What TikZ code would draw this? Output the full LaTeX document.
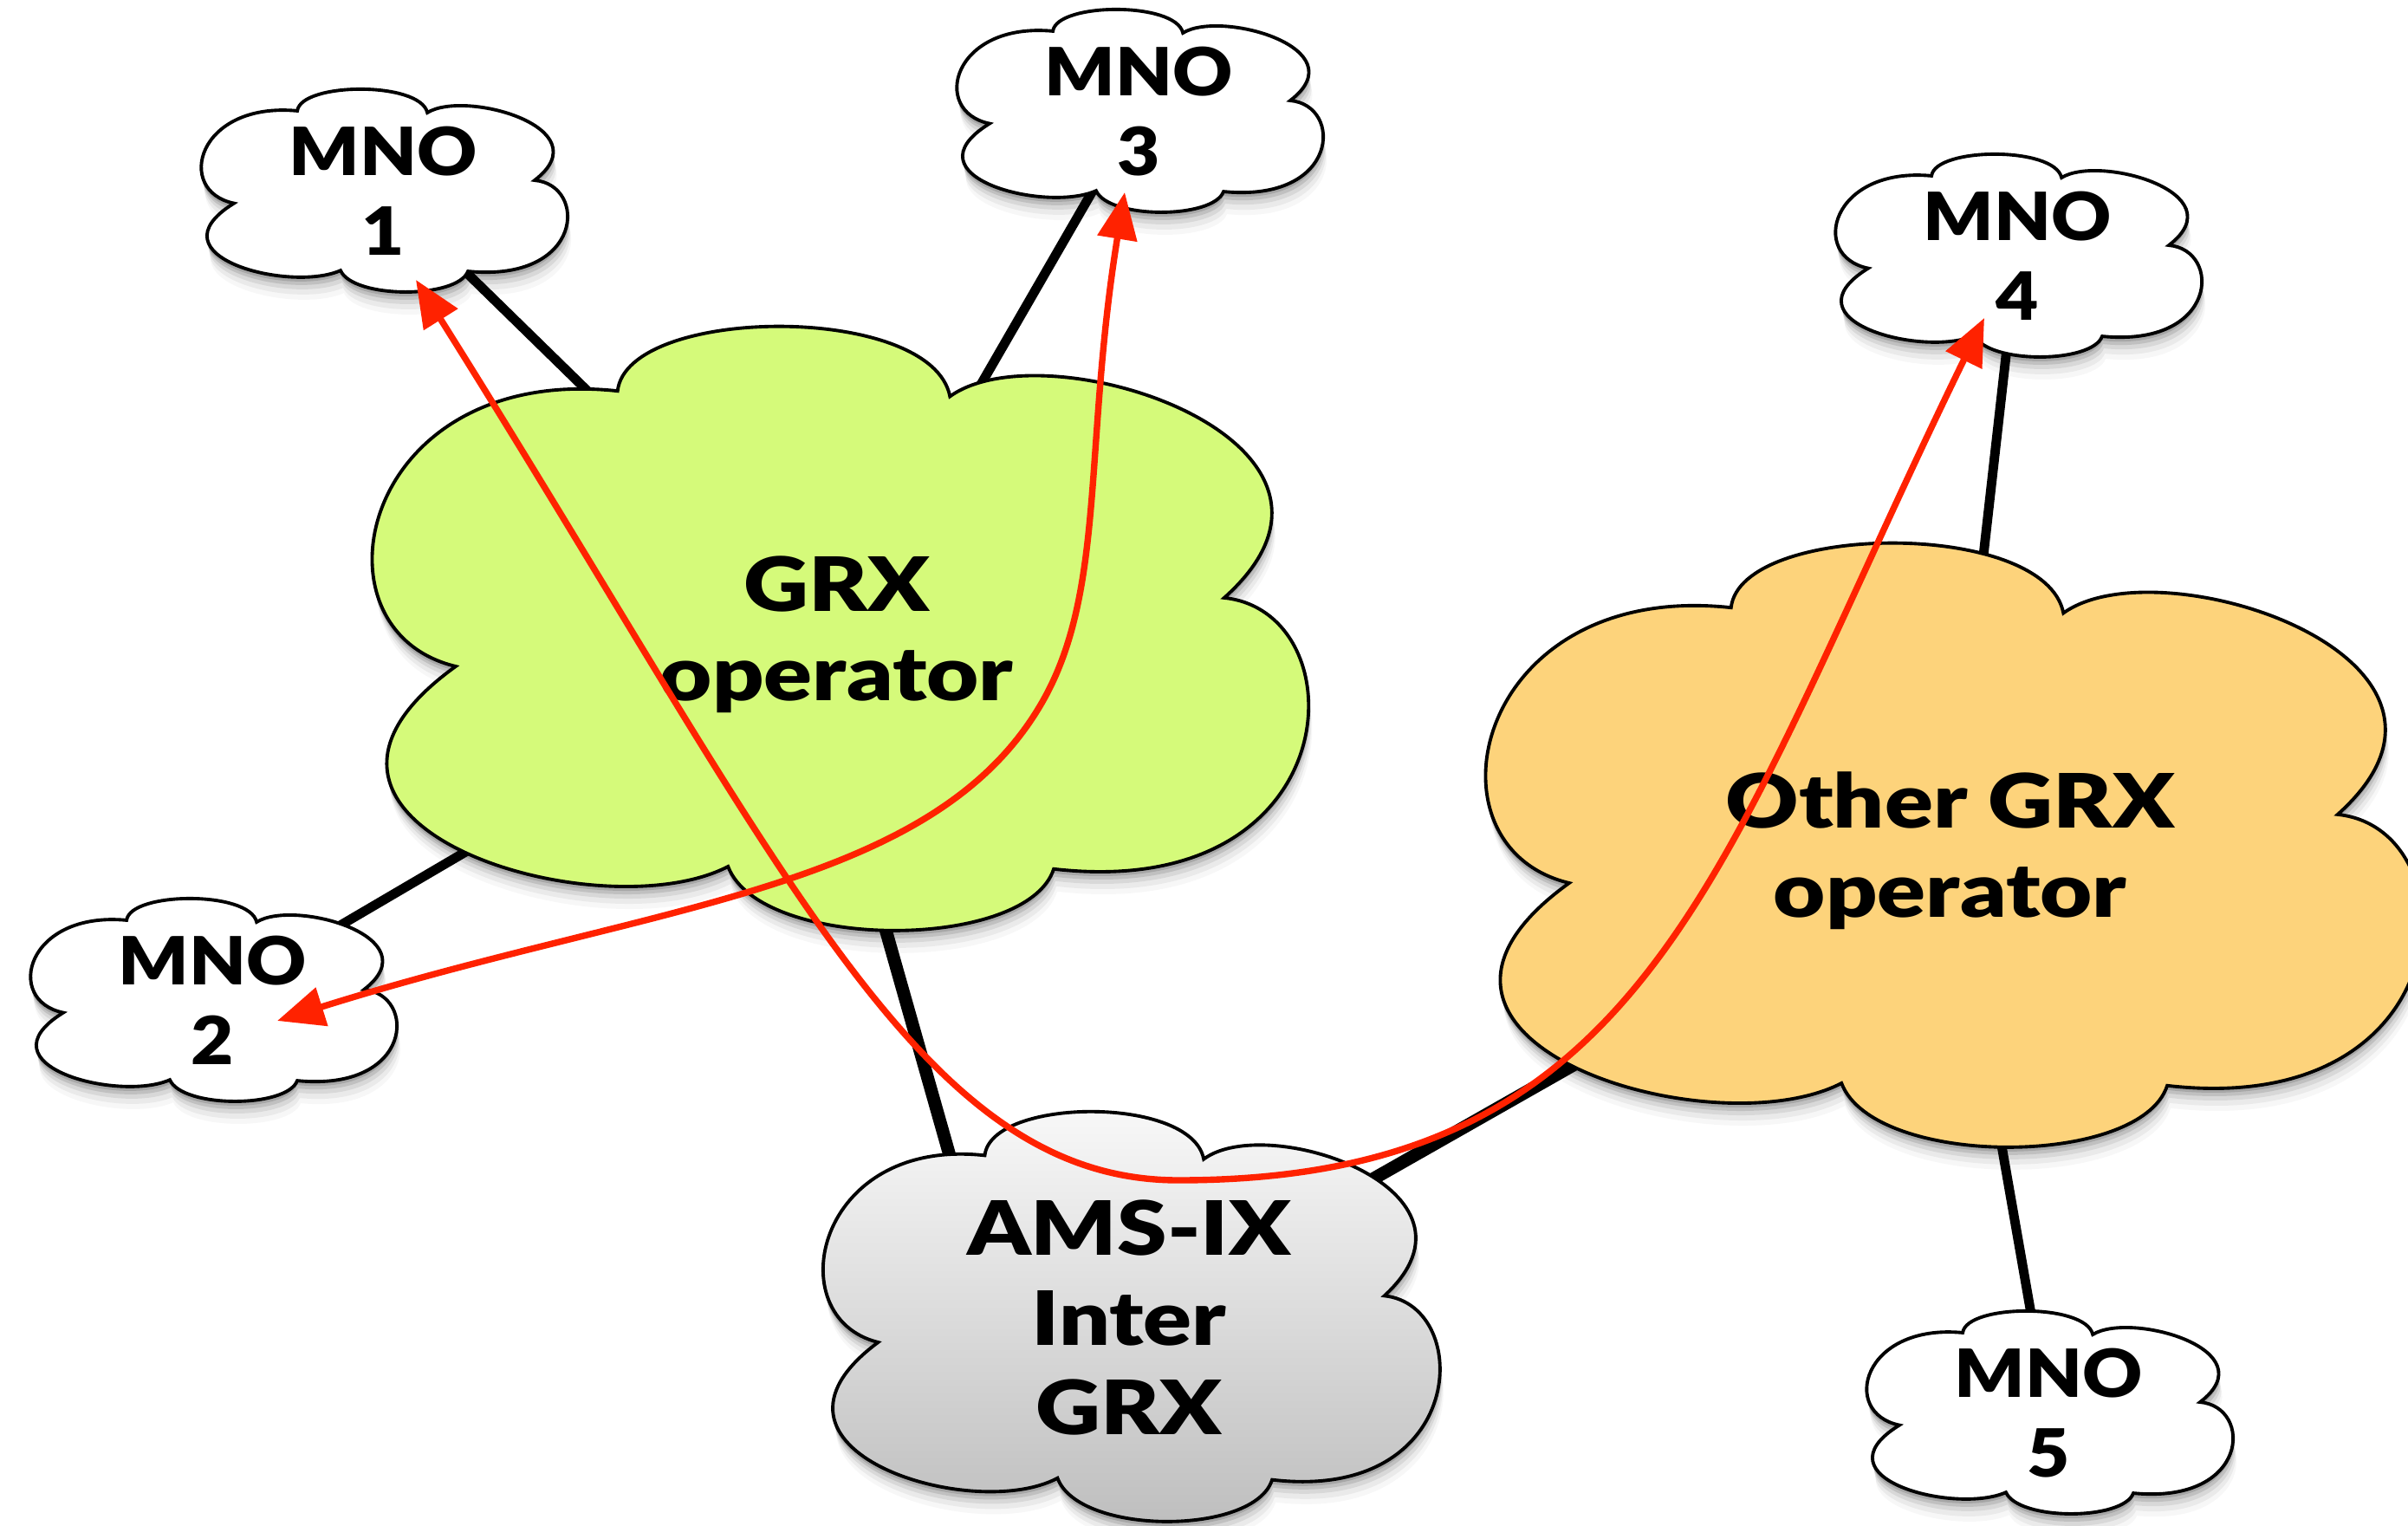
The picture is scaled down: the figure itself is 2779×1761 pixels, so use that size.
\documentclass[tikz,border=0pt]{standalone}
\usepackage{fontspec}
\newfontfamily\labfont{Lato Black}[FakeStretch=1.2]
\newfontfamily\mnofont{Lato Black}[FakeStretch=1.11]
\usetikzlibrary{arrows.meta,calc}
\pgfdeclarelayer{background}
\pgfsetlayers{background,main}
\definecolor{grxgreen}{RGB}{213,250,122}
\definecolor{grxorange}{RGB}{253,211,123}
\definecolor{arrred}{RGB}{255,34,0}
% Keynote-like cloud outline in a box (x0,y0,W,H), y downward
\newcommand\kshape[4]{({#1+0.270*#3},{#2+0.106*#4})
 .. controls ({#1+0.280*#3},{#2-0.035*#4}) and ({#1+0.600*#3},{#2-0.040*#4}) .. ({#1+0.619*#3},{#2+0.115*#4})
 .. controls ({#1+0.720*#3},{#2+0.000*#4}) and ({#1+1.090*#3},{#2+0.190*#4}) .. ({#1+0.907*#3},{#2+0.447*#4})
 .. controls ({#1+1.050*#3},{#2+0.470*#4}) and ({#1+1.040*#3},{#2+0.950*#4}) .. ({#1+0.728*#3},{#2+0.894*#4})
 .. controls ({#1+0.700*#3},{#2+1.030*#4}) and ({#1+0.420*#3},{#2+1.030*#4}) .. ({#1+0.386*#3},{#2+0.890*#4})
 .. controls ({#1+0.250*#3},{#2+1.000*#4}) and ({#1-0.130*#3},{#2+0.820*#4}) .. ({#1+0.100*#3},{#2+0.560*#4})
 .. controls ({#1-0.060*#3},{#2+0.500*#4}) and ({#1+0.000*#3},{#2+0.060*#4}) .. ({#1+0.270*#3},{#2+0.106*#4}) -- cycle}
\newcommand\kcloud[5]{%
  \foreach \dx/\dy/\op in {0/5/0.14, 1/9/0.11, 2/14/0.08, 3/20/0.05, 4/26/0.03}{
    \fill[black, opacity=\op] \kshape{#1+\dx}{#2+\dy}{#3}{#4};
  }
  \path[cloudline, #5] \kshape{#1}{#2}{#3}{#4};
}
\begin{document}
\begin{tikzpicture}[x=0.01cm,y=-0.01cm,
  cloudline/.style={draw=black,line width=1.1pt},
  mnolabel/.style={font=\mnofont\fontsize{21.8}{26.2}\selectfont,align=center,inner sep=0pt},
  biglabel/.style={font=\labfont\fontsize{24.6}{29.3}\selectfont,align=center,inner sep=0pt},
  link/.style={draw=black,line width=3.1pt},
  trunk/.style={draw=black,line width=4.2pt},
  flow/.style={draw=arrred,line width=2.1pt,
    {Triangle[length=0.54cm,width=0.45cm]}-{Triangle[length=0.54cm,width=0.45cm]}}]
\useasboundingbox (0,0) rectangle (2779,1761);

% clouds
\kcloud{416}{377}{1099}{700}{fill=grxgreen}
\kcloud{1701}{627}{1099}{700}{fill=grxorange}
\kcloud{941}{1283}{724}{475}{top color=black!2,bottom color=black!26}
\kcloud{227}{103}{430}{235}{fill=white}
\kcloud{1099}{11}{430}{235}{fill=white}
\kcloud{30}{1037}{430}{235}{fill=white}
\kcloud{2113}{178}{430}{235}{fill=white}
\kcloud{2149}{1513}{430}{235}{fill=white}

% labels
\node[biglabel] (grx) at (965.5,732) {GRX\\operator};
\node[biglabel] (other) at (2250.5,982) {Other GRX\\operator};
\node[biglabel] (ams) at (1303,1520.5) {AMS-IX\\Inter\\GRX};
\node[mnolabel] (mno1) at (442,220.5) {MNO\\1};
\node[mnolabel] (mno3) at (1314,128.5) {MNO\\3};
\node[mnolabel] (mno2) at (245,1154.5) {MNO\\2};
\node[mnolabel] (mno4) at (2328,295.5) {MNO\\4};
\node[mnolabel] (mno5) at (2364,1630.5) {MNO\\5};

% links behind the clouds
\begin{pgfonlayer}{background}
\draw[link] (mno1.center) -- (grx.center);
\draw[link] (mno3.center) -- (grx.center);
\draw[link] (mno2.center) -- (grx.center);
\draw[link] (mno4.center) -- (other.center);
\draw[link] (mno5.center) -- (other.center);
\draw[trunk] ($(grx.center)+(-40,0)$) -- ($(ams.center)+(-154,0)$);
\draw[trunk] (other.center) -- (ams.center);
\end{pgfonlayer}

% red flows
\coordinate (a2) at ($(mno2.center)+(75,23.5)$);
\coordinate (a3) at ($(mno3.center)+(-16,93.5)$);
\coordinate (b1) at ($(mno1.center)+(38,102.5)$);
\coordinate (b4) at ($(mno4.center)+(-38,71.5)$);
\draw[flow] (a2) .. controls (749,1043) and (1072,1030) .. (1200,815)
  .. controls (1277,686) and (1250,518) .. (a3);
\draw[flow] (b1) .. controls (906,1001) and (1060,1362) .. (1360,1362)
  .. controls (1910,1362) and (1983,996) .. (b4);
\end{tikzpicture}
\end{document}
